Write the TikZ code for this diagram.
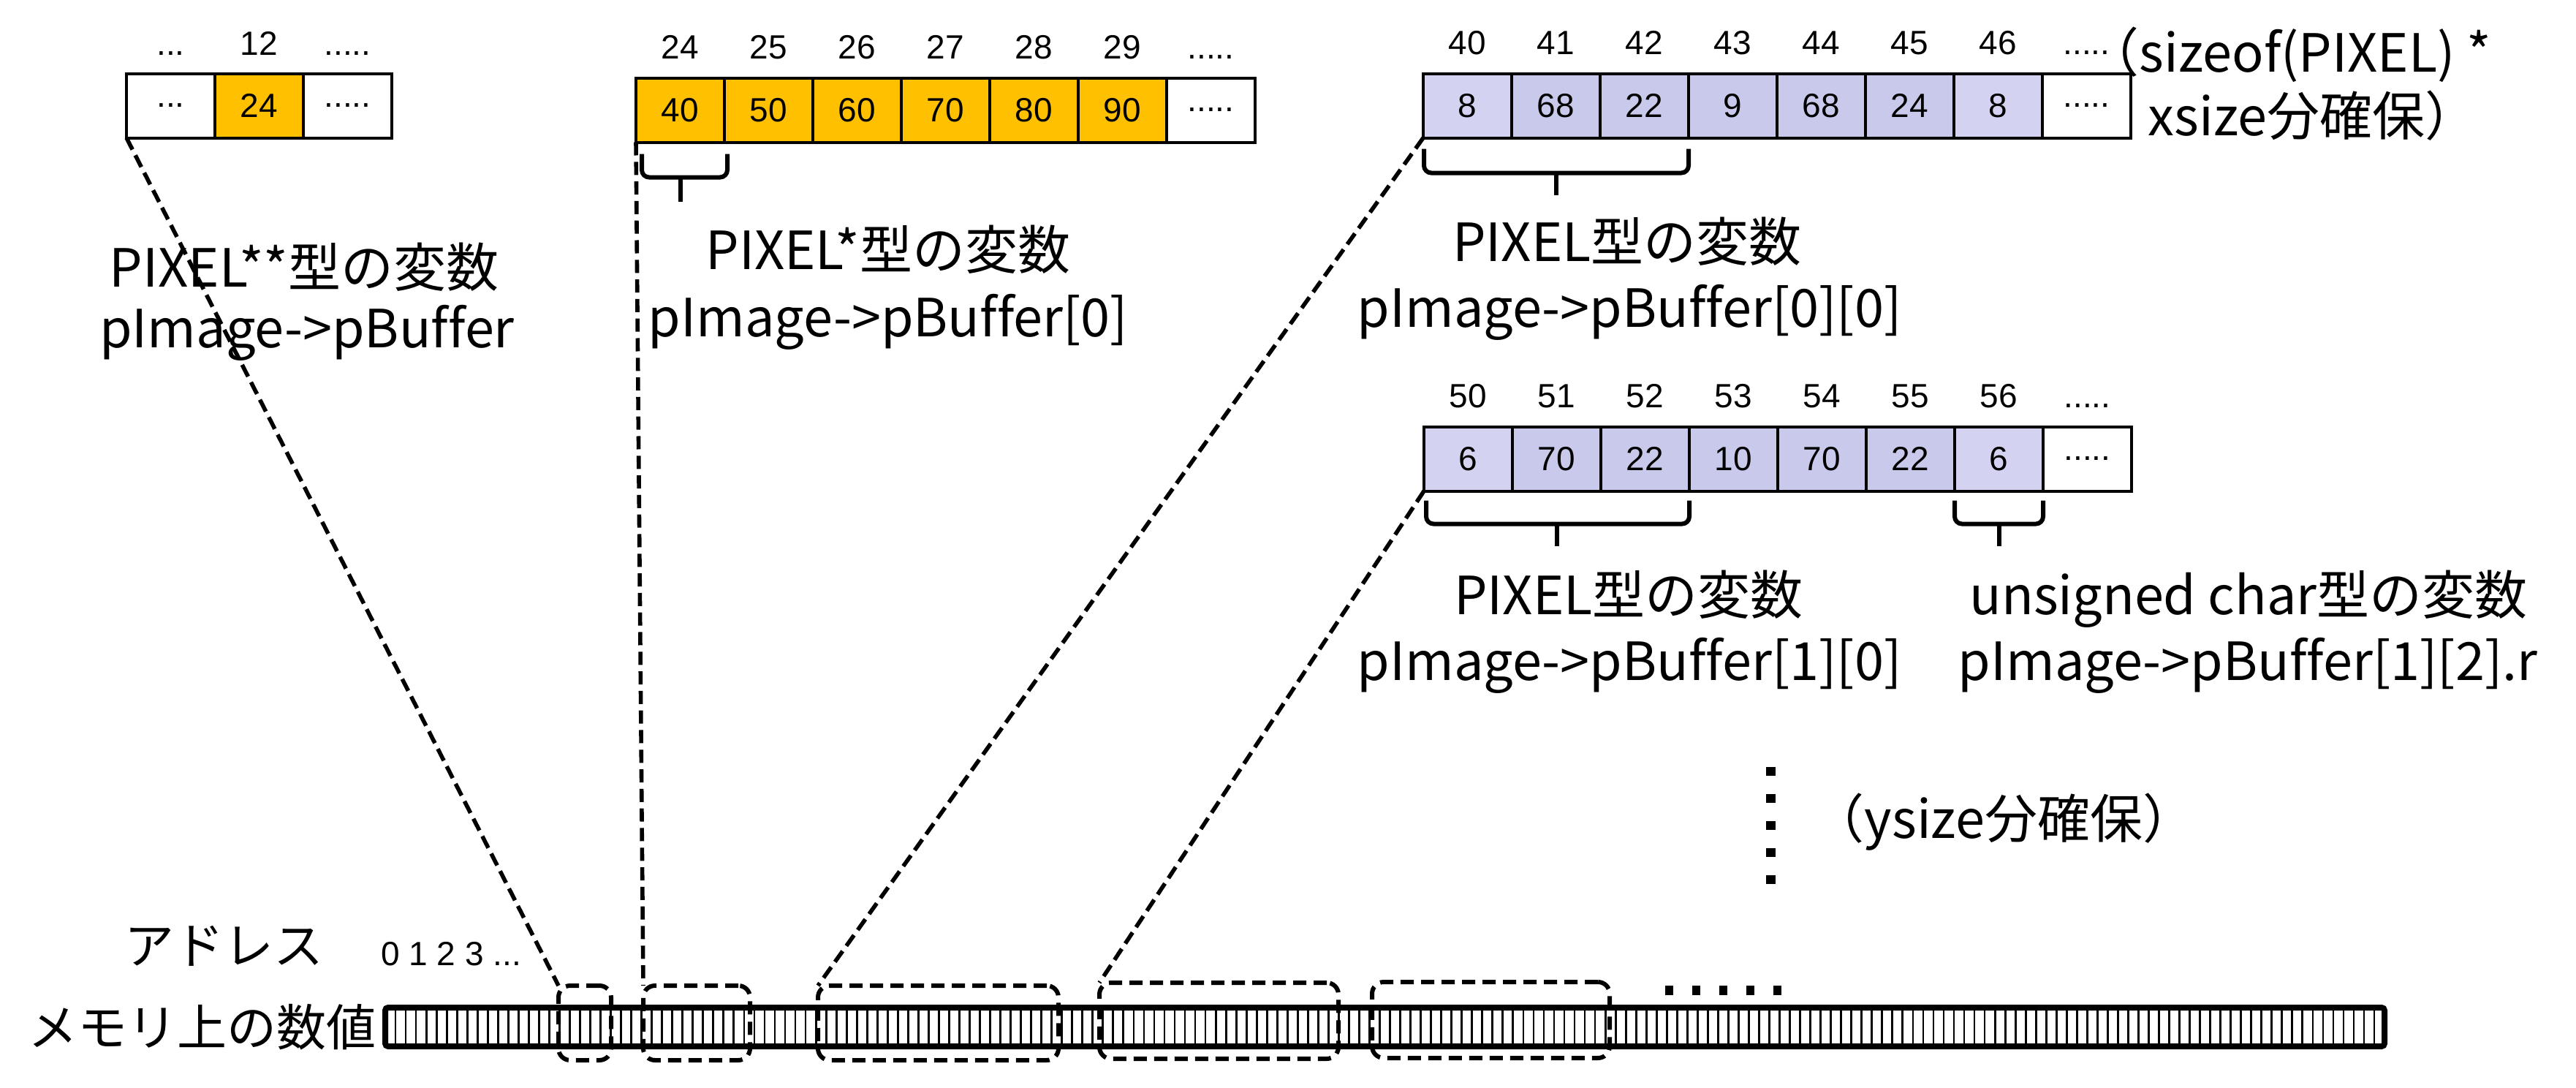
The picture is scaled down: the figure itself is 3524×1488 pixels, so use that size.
\documentclass[tikz,border=0pt]{standalone}
\usepackage{fontspec}
\setmainfont{Liberation Sans}
\newfontfamily\jp[Ligatures=NoCommon]{Noto Sans CJK JP}
\usetikzlibrary{calc}
\definecolor{gold}{HTML}{FFC000}
\definecolor{lav}{HTML}{C9C9EC}
\definecolor{lavl}{HTML}{D3D3F1}
\tikzset{
 cell/.style={draw, line width=1pt, minimum width=30.25pt, minimum height=22pt, inner sep=0pt, outer sep=0pt, font=\fontsize{11.5}{13}\selectfont},
 idx/.style={anchor=base, inner sep=0pt, font=\fontsize{11.5}{13}\selectfont},
 lbl/.style={anchor=base, inner sep=0pt, font=\jp\fontsize{18}{20}\selectfont},
 blbl/.style={anchor=base, inner sep=0pt, font=\jp\fontsize{17}{19}\selectfont},
 conn/.style={line width=1.4pt, dash pattern=on 4.5pt off 2.2pt},
 dbox/.style={draw, line width=1.5pt, dash pattern=on 4.5pt off 2.5pt, rounded corners=4pt, inner sep=0pt, outer sep=0pt},
 bracepath/.style={line width=1.5pt, rounded corners=2.5pt},
}
\begin{document}
\begin{tikzpicture}[x=0.25pt,y=-0.25pt]
\useasboundingbox (0,0) rectangle (3524,1488);
\fill[white] (0,0) rectangle (3524,1488);

% ---------- array 1 ----------
\node[cell] (a1c0) at (233.5,144.5) {...};
\node[cell, fill=gold] (a1c1) at (354.5,144.5) {24};
\node[cell] (a1c2) at (475.5,144.5) {.....};
\node[idx] (a1i0) at (233.5,75) {...};
\node[idx] (a1i1) at (354.5,75) {12};
\node[idx] (a1i2) at (475.5,75) {.....};

% ---------- array 2 ----------
\foreach \v [count=\k from 0] in {40,50,60,70,80,90} {
  \node[cell, fill=gold] (a2c\k) at ({930.5+121*\k},150.5) {\v};
}
\node[cell] (a2c6) at ({930.5+121*6},150.5) {.....};
\foreach \v [count=\k from 0] in {24,25,26,27,28,29} {
  \node[idx] (a2i\k) at ({930.5+121*\k},80) {\v};
}
\node[idx] (a2i6) at ({930.5+121*6},80) {.....};

% ---------- array 3 ----------
\foreach \v/\c [count=\k from 0] in {8/lavl,68/lav,22/lav,9/lav,68/lav,24/lav,8/lavl} {
  \node[cell, fill=\c] (a3c\k) at ({2007.5+121*\k},144.5) {\v};
}
\node[cell] (a3c7) at ({2007.5+121*7},144.5) {.....};
\foreach \v [count=\k from 0] in {40,41,42,43,44,45,46} {
  \node[idx] (a3i\k) at ({2007.5+121*\k},74) {\v};
}
\node[idx] (a3i7) at ({2007.5+121*7},74) {.....};

% ---------- array 4 ----------
\foreach \v/\c [count=\k from 0] in {6/lavl,70/lav,22/lav,10/lav,70/lav,22/lav,6/lavl} {
  \node[cell, fill=\c] (a4c\k) at ({2008.5+121*\k},627.5) {\v};
}
\node[cell] (a4c7) at ({2008.5+121*7},627.5) {.....};
\foreach \v [count=\k from 0] in {50,51,52,53,54,55,56} {
  \node[idx] (a4i\k) at ({2008.5+121*\k},557) {\v};
}
\node[idx] (a4i7) at ({2008.5+121*7},557) {.....};

% ---------- braces ----------
\draw[bracepath] ($(a2c0.south west)+(8,16)$) |- ($(a2c0.south west)!0.5!(a2c0.south east)+(0,48)$) -| ($(a2c0.south east)+(4,16)$);
\draw[line width=1.5pt] ($(a2c0.south west)!0.5!(a2c0.south east)+(0,48)$) -- ++(0,33);

\draw[bracepath] ($(a3c0.south west)+(1,15)$) |- ($(a3c0.south west)!0.5!(a3c2.south east)+(0,48)$) -| ($(a3c2.south east)+(0,15)$);
\draw[line width=1.5pt] ($(a3c0.south west)!0.5!(a3c2.south east)+(0,48)$) -- ++(0,30);

\draw[bracepath] ($(a4c0.south west)+(3,13)$) |- ($(a4c0.south west)!0.5!(a4c2.south east)+(0,45)$) -| ($(a4c2.south east)+(0,13)$);
\draw[line width=1.5pt] ($(a4c0.south west)!0.5!(a4c2.south east)+(0,45)$) -- ++(0,30);

\draw[bracepath] ($(a4c6.south west)+(0,13)$) |- ($(a4c6.south west)!0.5!(a4c6.south east)+(0,45)$) -| ($(a4c6.south east)+(0,13)$);
\draw[line width=1.5pt] ($(a4c6.south west)!0.5!(a4c6.south east)+(0,45)$) -- ++(0,30);

% ---------- labels ----------
\node[lbl] (l1a) at (416,392) {PIXEL**型の変数};
\node[lbl] (l1b) at (420,475) {pImage->pBuffer};
\node[lbl] (l2a) at (1215,368) {PIXEL*型の変数};
\node[lbl] (l2b) at (1215,460) {pImage->pBuffer[0]};
\node[lbl] (l3a) at (2226,357) {PIXEL型の変数};
\node[lbl] (l3b) at (2229,447) {pImage->pBuffer[0][0]};
\node[lbl] (l4a) at (2228,840) {PIXEL型の変数};
\node[lbl] (l4b) at (2229,930) {pImage->pBuffer[1][0]};
\node[lbl] (l5a) at (3076,840) {unsigned char型の変数};
\node[lbl] (l5b) at (3075,930) {pImage->pBuffer[1][2].r};
\node[lbl, anchor=base west] (s1) at (2890,98) {\makebox[0.5em][r]{（}sizeof(PIXEL) *};
\node[lbl] (s2) at (3164,185) {xsize分確保）};
\node[lbl] (ys) at (2741,1146) {（ysize分確保）};
\node[blbl] (adr) at (306,1318) {アドレス};
\node[blbl] (mem) at (276,1430) {メモリ上の数値};
\node[idx] (nums) at (617,1320) {0 1 2 3 ...};

% ---------- memory strip ----------
\foreach \i in {1,...,194} {
  \draw[line width=0.7pt] ({527+\i*14.026},1378) -- ({527+\i*14.026},1431);
}
\node[draw, line width=2pt, rounded corners=1pt, minimum width=683.75pt, minimum height=13.25pt, inner sep=0pt, outer sep=0pt] (strip) at (1894.5,1404.5) {};

% ---------- dashed boxes ----------
\node[dbox, minimum width=18pt, minimum height=25.5pt] (b1) at (800,1399) {};
\node[dbox, minimum width=36.5pt, minimum height=25.5pt] (b2) at (953,1399) {};
\node[dbox, minimum width=82.25pt, minimum height=25.5pt] (b3) at (1283.5,1399) {};
\node[dbox, minimum width=81.75pt, minimum height=26pt] (b4) at (1667.5,1396) {};
\node[dbox, minimum width=81.25pt, minimum height=26pt] (b5) at (2039.5,1395) {};

% ---------- connectors ----------
\draw[conn] (a1c0.south west) -- (b1.north west);
\draw[conn] (a2c0.south west) -- (b2.north west);
\draw[conn] (a3c0.south west) -- (b3.north west);
\draw[conn] (a4c0.south west) -- (b4.north west);

% ---------- continuation dots ----------
\draw[line width=3.25pt, dash pattern=on 3pt off 6.25pt] (2422,1049) -- (2422,1212);
\draw[line width=3.25pt, dash pattern=on 2.75pt off 6.5pt] (2278,1354.5) -- (2440,1354.5);
\end{tikzpicture}
\end{document}
